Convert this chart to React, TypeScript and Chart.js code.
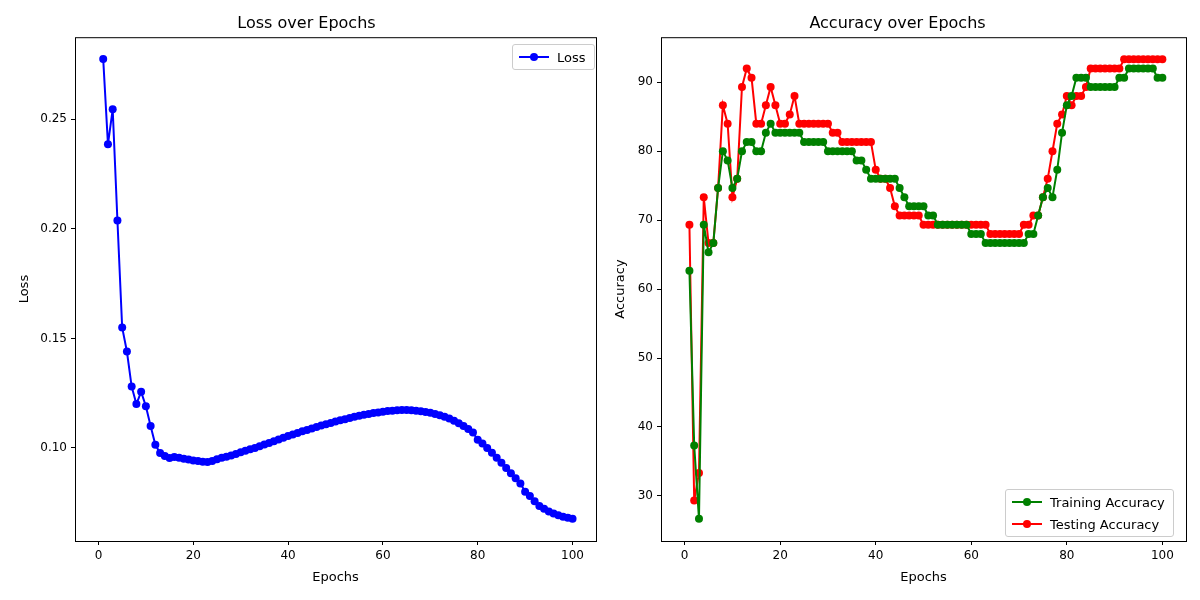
import { useEffect, useRef } from 'react';
import Chart from 'chart.js/auto';

const epochs = Array.from({ length: 100 }, (_, i) => i + 1);

const lossValues = [
  0.2775, 0.2386, 0.2546, 0.2038, 0.155, 0.144, 0.128, 0.12, 0.1256, 0.119,
  0.11, 0.1014, 0.0977, 0.0963, 0.0954, 0.0958, 0.0955, 0.095, 0.0947, 0.0943,
  0.094, 0.0937, 0.0936, 0.094, 0.0948, 0.0955, 0.096, 0.0965, 0.0972, 0.098,
  0.0987, 0.0994, 0.1, 0.1007, 0.1015, 0.1022, 0.103, 0.1038, 0.1046, 0.1054,
  0.1061, 0.1068, 0.1076, 0.1082, 0.1089, 0.1095, 0.1102, 0.1108, 0.1114, 0.112,
  0.1126, 0.1131, 0.1137, 0.1142, 0.1147, 0.1151, 0.1155, 0.1159, 0.1162, 0.1165,
  0.1168, 0.117, 0.1172, 0.1173, 0.1173, 0.1172, 0.117, 0.1167, 0.1164, 0.116,
  0.1155, 0.1149, 0.1142, 0.1134, 0.1124, 0.1113, 0.11, 0.1086, 0.107, 0.1037,
  0.102, 0.1, 0.0978, 0.0955, 0.0932, 0.0908, 0.0884, 0.0861, 0.0838, 0.08,
  0.078, 0.0757, 0.0735, 0.0722, 0.071, 0.07, 0.0692, 0.0686, 0.0681, 0.0677,
];

const trainAcc = [
  62.67, 37.33, 26.67, 69.33, 65.33, 66.67, 74.67, 80, 78.67, 74.67,
  76, 80, 81.33, 81.33, 80, 80, 82.67, 84, 82.67, 82.67,
  82.67, 82.67, 82.67, 82.67, 81.33, 81.33, 81.33, 81.33, 81.33, 80,
  80, 80, 80, 80, 80, 78.67, 78.67, 77.33, 76, 76,
  76, 76, 76, 76, 74.67, 73.33, 72, 72, 72, 72,
  70.67, 70.67, 69.33, 69.33, 69.33, 69.33, 69.33, 69.33, 69.33, 68,
  68, 68, 66.67, 66.67, 66.67, 66.67, 66.67, 66.67, 66.67, 66.67,
  66.67, 68, 68, 70.67, 73.33, 74.67, 73.33, 77.33, 82.67, 86.67,
  88, 90.67, 90.67, 90.67, 89.33, 89.33, 89.33, 89.33, 89.33, 89.33,
  90.67, 90.67, 92, 92, 92, 92, 92, 92, 90.67, 90.67,
];

const testAcc = [
  69.33, 29.33, 33.33, 73.33, 66.67, 66.67, 74.67, 86.67, 84, 73.33,
  76, 89.33, 92, 90.67, 84, 84, 86.67, 89.33, 86.67, 84,
  84, 85.33, 88, 84, 84, 84, 84, 84, 84, 84,
  82.67, 82.67, 81.33, 81.33, 81.33, 81.33, 81.33, 81.33, 81.33, 77.33,
  76, 76, 74.67, 72, 70.67, 70.67, 70.67, 70.67, 70.67, 69.33,
  69.33, 69.33, 69.33, 69.33, 69.33, 69.33, 69.33, 69.33, 69.33, 69.33,
  69.33, 69.33, 69.33, 68, 68, 68, 68, 68, 68, 68,
  69.33, 69.33, 70.67, 70.67, 73.33, 76, 80, 84, 85.33, 88,
  86.67, 88, 88, 89.33, 92, 92, 92, 92, 92, 92,
  92, 93.33, 93.33, 93.33, 93.33, 93.33, 93.33, 93.33, 93.33, 93.33,
];

const xTicks = [0, 20, 40, 60, 80, 100];
const lossTicks = [0.1, 0.15, 0.2, 0.25];
const accTicks = [30, 40, 50, 60, 70, 80, 90];

const FONT = 'DejaVu Sans, sans-serif';

const frame = {
  id: 'frame',
  afterDraw(chart: any) {
    const { ctx, chartArea: a } = chart;
    ctx.save();
    ctx.strokeStyle = '#000';
    ctx.lineWidth = 1;
    ctx.strokeRect(a.left + 0.5, a.top + 0.5, a.right - a.left, a.bottom - a.top);
    ctx.restore();
  },
};

function makeConfig(
  title: string,
  yTitle: string,
  datasets: any[],
  yMin: number,
  yMax: number,
  yTicks: number[],
  yFmt: (v: number) => string,
  padLeft: number,
  leftW: number,
  padRight: number
): any {
  const axis = (ticks: number[], fmt: (v: number) => string) => ({
    afterBuildTicks: (s: any) => {
      s.ticks = ticks.map((v) => ({ value: v }));
    },
    grid: { drawOnChartArea: false, drawTicks: true, tickLength: 4, color: '#000' },
    border: { display: false },
    ticks: { color: '#000', font: { family: FONT, size: 12 }, padding: 4, callback: (v: any) => fmt(Number(v)) },
  });
  return {
    type: 'line',
    data: { datasets },
    options: {
      animation: false,
      responsive: false,
      parsing: false,
      layout: { padding: { left: padLeft, right: padRight, top: 0, bottom: 11 } },
      plugins: {
        legend: { display: false },
        tooltip: { enabled: false },
        title: {
          display: true,
          text: title,
          color: '#000',
          font: { family: FONT, size: 16, weight: 'normal' },
          padding: { top: 14, bottom: 4 },
        },
      },
      scales: {
        x: {
          type: 'linear',
          min: -4.95,
          max: 104.95,
          ...axis(xTicks, (v) => String(v)),
          title: { display: true, text: 'Epochs', color: '#000', font: { family: FONT, size: 13 }, padding: { top: 2 } },
        },
        y: {
          type: 'linear',
          min: yMin,
          max: yMax,
          ...axis(yTicks, yFmt),
          afterFit: (s: any) => {
            s.width = leftW;
          },
          title: { display: true, text: yTitle, color: '#000', font: { family: FONT, size: 13 }, padding: { bottom: 4 } },
        },
      },
    },
    plugins: [frame],
  };
}

const ds = (label: string, ys: number[], color: string) => ({
  label,
  data: epochs.map((x, i) => ({ x, y: ys[i] })),
  borderColor: color,
  backgroundColor: color,
  borderWidth: 2,
  pointRadius: 4,
  pointBorderWidth: 0,
  pointBackgroundColor: color,
  tension: 0,
});

const LegendRow = ({ color, text }: { color: string; text: string }) => (
  <div style={{ display: 'flex', alignItems: 'center', height: 22 }}>
    <svg width={34} height={12} style={{ marginRight: 6 }}>
      <line x1={2} y1={6} x2={32} y2={6} stroke={color} strokeWidth={2} />
      <circle cx={17} cy={6} r={4} fill={color} />
    </svg>
    <span>{text}</span>
  </div>
);

const legendBox: any = {
  position: 'absolute',
  background: 'rgba(255,255,255,0.8)',
  border: '1px solid #ccc',
  borderRadius: 3,
  padding: '1px 8px 1px 4px',
  fontFamily: FONT,
  fontSize: 13,
  color: '#000',
};

export default function App() {
  const lossRef = useRef<HTMLCanvasElement | null>(null);
  const accRef = useRef<HTMLCanvasElement | null>(null);

  useEffect(() => {
    if (!lossRef.current || !accRef.current) return;
    const c1 = new Chart(
      lossRef.current,
      makeConfig('Loss over Epochs', 'Loss', [ds('Loss', lossValues, '#0000ff')], 0.0575, 0.2875, lossTicks, (v) => v.toFixed(2), 13, 62, 0)
    );
    const c2 = new Chart(
      accRef.current,
      makeConfig(
        'Accuracy over Epochs',
        'Accuracy',
        [ds('Training Accuracy', trainAcc, '#008000'), ds('Testing Accuracy', testAcc, '#ff0000')],
        23.46,
        96.54,
        accTicks,
        (v) => String(v),
        9,
        52,
        14
      )
    );
    return () => {
      c1.destroy();
      c2.destroy();
    };
  }, []);

  return (
    <div style={{ position: 'fixed', left: 0, top: 0, width: 1200, height: 600, background: '#fff' }}>
      <canvas ref={lossRef} width={600} height={600} style={{ position: 'absolute', left: 0, top: 0 }} />
      <canvas ref={accRef} width={600} height={600} style={{ position: 'absolute', left: 600, top: 0 }} />
      <div style={{ ...legendBox, left: 512, top: 44 }}>
        <LegendRow color="#0000ff" text="Loss" />
      </div>
      <div style={{ ...legendBox, left: 1005, top: 489 }}>
        <LegendRow color="#008000" text="Training Accuracy" />
        <LegendRow color="#ff0000" text="Testing Accuracy" />
      </div>
    </div>
  );
}
